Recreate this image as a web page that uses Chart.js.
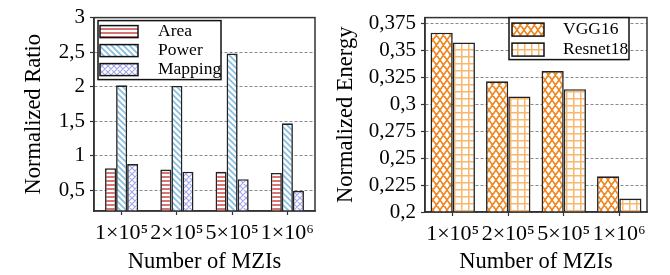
<!DOCTYPE html>
<html><head><meta charset="utf-8">
<script src="https://cdn.jsdelivr.net/npm/chart.js@4"></script>
<style>
html,body{margin:0;padding:0;background:#fff;}
#wrap{display:flex;width:670px;height:275px;}
.box{position:relative;width:335px;height:275px;}
canvas{display:block;}
</style></head><body>
<div id="wrap"><div class="box"><canvas id="c1" width="335" height="275"></canvas></div><div class="box"><canvas id="c2" width="335" height="275"></canvas></div></div>
<script>
const categories = ['1×10⁵','2×10⁵','5×10⁵','1×10⁶'];
const areaValues = [0.82, 0.80, 0.77, 0.75];
const powerValues = [2.02, 2.01, 2.48, 1.47];
const mappingValues = [0.88, 0.77, 0.66, 0.49];
const vgg16Values = [0.366, 0.321, 0.3305, 0.233];
const resnet18Values = [0.357, 0.307, 0.3137, 0.2124];
const ratioTicks = [0.5, 1, 1.5, 2, 2.5, 3];
const energyTicks = [0.2, 0.225, 0.25, 0.275, 0.3, 0.325, 0.35, 0.375];

const FONT = '"Liberation Serif", "Times New Roman", serif';

function makePattern(w, h, color, draw) {
  const c = document.createElement('canvas'); c.width = w; c.height = h;
  const x = c.getContext('2d');
  x.fillStyle = '#fff'; x.fillRect(0, 0, w, h);
  x.strokeStyle = color; x.fillStyle = color;
  draw(x, w, h);
  return x.createPattern(c, 'repeat');
}
const areaPat = makePattern(4, 4, '#d97474', (x, w, h) => { x.fillRect(0, 0, w, 2); });
const powerPat = makePattern(6, 6, '#82bde0', (x, w, h) => {
  x.lineWidth = 1.6; x.beginPath();
  for (const k of [-6, 0, 6]) { x.moveTo(k - 1, -1); x.lineTo(k + 7, 7); }
  x.stroke();
});
const mappingPat = makePattern(6, 6, '#a3a8ec', (x, w, h) => {
  x.lineWidth = 1.2; x.beginPath();
  for (const k of [-6, 0, 6]) { x.moveTo(k - 1, -1); x.lineTo(k + 7, 7); x.moveTo(k + 7, -1); x.lineTo(k - 1, 7); }
  x.stroke();
});
const vggPat = makePattern(7, 10, '#f0861f', (x, w, h) => {
  x.lineWidth = 1.6; x.beginPath();
  for (const k of [-7, 0, 7]) {
    x.moveTo(k - 0.7, -1); x.lineTo(k + 7.7, 11);
    x.moveTo(k + 7.7, -1); x.lineTo(k - 0.7, 11);
  }
  x.stroke();
});
const resPat = makePattern(7, 7, '#f6b86e', (x, w, h) => { x.fillRect(0, 0, 1.5, h); x.fillRect(0, 0, w, 1.5); });

const boxLegend = {
  id: 'boxLegend',
  afterDraw(chart, args, o) {
    const ctx = chart.ctx, a = chart.chartArea;
    ctx.save();
    const bx = a.left + o.dx, by = a.top + o.dy;
    ctx.fillStyle = '#fff'; ctx.fillRect(bx, by, o.w, o.h);
    ctx.lineWidth = 1.5; ctx.strokeStyle = '#111'; ctx.strokeRect(bx, by, o.w, o.h);
    chart.data.datasets.forEach((ds, i) => {
      const cy = by + o.firstRow + i * o.rowH;
      ctx.fillStyle = ds.backgroundColor;
      ctx.fillRect(bx + o.swX, cy - o.swH / 2, o.swW, o.swH);
      ctx.lineWidth = 1.5; ctx.strokeStyle = '#111';
      ctx.strokeRect(bx + o.swX, cy - o.swH / 2, o.swW, o.swH);
      ctx.fillStyle = '#000'; ctx.font = '17.5px ' + FONT; ctx.textBaseline = 'middle'; ctx.textAlign = 'left';
      ctx.fillText(ds.label, bx + o.textX, cy);
    });
    ctx.restore();
  }
};
const frame = {
  id: 'frame',
  afterDatasetsDraw(chart) {
    const ctx = chart.ctx, a = chart.chartArea;
    ctx.save(); ctx.strokeStyle = '#333'; ctx.lineWidth = 1.5;
    ctx.strokeRect(a.left, a.top, a.right - a.left, a.bottom - a.top);
    ctx.restore();
  }
};

function makeOptions(cfg) {
  return {
    responsive: false, animation: false,
    layout: { padding: { left: 0, right: cfg.padRight, top: 15, bottom: 0 } },
    plugins: { legend: { display: false }, tooltip: { enabled: false }, boxLegend: cfg.legend },
    scales: {
      x: {
        afterFit: ax => { ax.height = cfg.xHeight; },
        ticks: { autoSkip: false, maxRotation: 0, minRotation: 0, color: '#000', font: { family: FONT, size: 22 }, padding: 5 },
        grid: { offset: false, color: 'rgba(0,0,0,0)', drawOnChartArea: false, tickColor: '#333', tickLength: 4, tickWidth: 1.2 },
        border: { display: true, color: '#333', width: 1.5 },
        title: { display: true, text: 'Number of MZIs', color: '#000', font: { family: FONT, size: 22.5, lineHeight: 1 }, padding: { top: 0, bottom: 2 } }
      },
      y: {
        min: cfg.min, max: cfg.max,
        afterBuildTicks: ax => { ax.ticks = cfg.ticks.map(v => ({ value: v })); },
        afterFit: ax => { ax.width = cfg.yWidth; },
        ticks: { autoSkip: false, color: '#000', font: { family: FONT, size: 21 }, padding: 5, callback: v => String(v).replace('.', ',') },
        grid: { color: '#8a8a8a', lineWidth: 1, tickColor: '#333', tickLength: 4, tickWidth: 1.2, tickBorderDash: [] },
        border: { display: true, color: '#333', width: 1.5, dash: [3, 2] },
        title: { display: true, text: cfg.yTitle, color: '#000', font: { family: FONT, size: 22.5, lineHeight: 1 }, padding: { top: cfg.titlePad, bottom: 0 } }
      }
    }
  };
}

new Chart(document.getElementById('c1'), {
  type: 'bar',
  data: {
    labels: categories,
    datasets: [
      { label: 'Area', data: areaValues, backgroundColor: areaPat, borderColor: '#222', borderWidth: 1.6, categoryPercentage: 0.6, barPercentage: 1 },
      { label: 'Power', data: powerValues, backgroundColor: powerPat, borderColor: '#222', borderWidth: 1.6, categoryPercentage: 0.6, barPercentage: 1 },
      { label: 'Mapping', data: mappingValues, backgroundColor: mappingPat, borderColor: '#222', borderWidth: 1.6, categoryPercentage: 0.6, barPercentage: 1 }
    ]
  },
  options: makeOptions({ padRight: 20, xHeight: 64, yWidth: 94, min: 0.2, max: 3, ticks: ratioTicks, yTitle: 'Normalized Ratio', titlePad: 23,
    legend: { dx: 4, dy: 3, w: 123, h: 59, swX: 2, swW: 38, swH: 12, firstRow: 11, rowH: 19, textX: 60 } }),
  plugins: [frame, boxLegend]
});

new Chart(document.getElementById('c2'), {
  type: 'bar',
  data: {
    labels: categories,
    datasets: [
      { label: 'VGG16', data: vgg16Values, backgroundColor: vggPat, borderColor: '#222', borderWidth: 1.6, categoryPercentage: 0.8, barPercentage: 1 },
      { label: 'Resnet18', data: resnet18Values, backgroundColor: resPat, borderColor: '#222', borderWidth: 1.6, categoryPercentage: 0.8, barPercentage: 1 }
    ]
  },
  options: makeOptions({ padRight: 23, xHeight: 63, yWidth: 90, min: 0.2, max: 0.38, ticks: energyTicks, yTitle: 'Normalized Energy', titlePad: 0,
    legend: { dx: 84, dy: 0, w: 120, h: 42, swX: 3, swW: 32, swH: 13, firstRow: 12, rowH: 20, textX: 54 } }),
  plugins: [frame, boxLegend]
});
</script>
</body></html>
